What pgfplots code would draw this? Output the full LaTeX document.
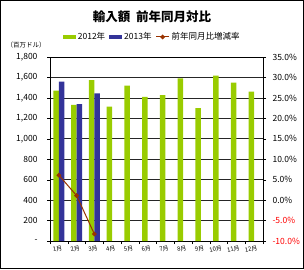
\documentclass[border=0pt]{standalone}
\usepackage{fontspec}
\setmainfont{Noto Sans CJK JP}
\usepackage{pgfplots}
\pgfplotsset{compat=1.18}
\definecolor{c12}{HTML}{99CC00}
\definecolor{c13}{HTML}{333399}
\definecolor{cl}{HTML}{993300}
\begin{document}
\begin{tikzpicture}
\useasboundingbox (0pt,0pt) rectangle (304pt,269pt);
\draw[line width=0.8pt] (0.4pt,0.4pt) rectangle (303.6pt,268.6pt);
\node[font=\bfseries\fontsize{12.5}{14}\selectfont] at (152pt,252pt) {輸入額\ \ 前年同月対比};
\node[font=\fontsize{6.5}{8}\selectfont] at (26pt,224pt) {（百万ドル）};
\begin{axis}[at={(50pt,28pt)}, anchor=south west, scale only axis, width=213pt, height=184pt,
  xmin=0.5, xmax=12.5, ymin=0, ymax=1800,
  ytick={0,200,...,1800},
  yticklabels={-,200,400,600,800,{1,000},{1,200},{1,400},{1,600},{1,800}},
  xtick={1,...,12},
  xticklabels={1月,2月,3月,4月,5月,6月,7月,8月,9月,10月,11月,12月},
  minor xtick={0.5,1.5,...,12.5},
  major x tick style={draw=none},
  minor tick length=3pt, major tick length=3pt,
  tick align=outside, ytick pos=left,
  xtick pos=bottom,
  ymajorgrids, major grid style={black!85, line width=0.6pt},
  axis line style={black, line width=0.8pt},
  tick style={black},
  /pgf/number format/assume math mode=true,
  yticklabel style={font=\fontsize{8.5}{10}\selectfont, xshift=-6pt},
  xticklabel style={font=\fontsize{6}{7}\selectfont, rotate=12, anchor=north east, xshift=3pt, yshift=-1pt, inner sep=0.5pt},
  legend style={draw=none, fill=none, at={(0.48,1.109)}, anchor=center, legend columns=3,
    font=\fontsize{8.5}{10}\selectfont, /tikz/every even column/.append style={column sep=2pt},
    inner sep=0pt},
  legend cell align=left,
]
\addplot[ybar, bar width=0.31, bar shift=-0.155, fill=c12, draw=none,
  legend image code/.code={\fill[c12] (0pt,-1.8pt) rectangle (13pt,1.8pt);}]
  coordinates {(1,1470) (2,1331) (3,1575) (4,1314) (5,1520) (6,1409) (7,1428) (8,1592) (9,1301) (10,1618) (11,1549) (12,1461)};
\addlegendentry{2012年}
\addplot[ybar, bar width=0.31, bar shift=0.155, fill=c13, draw=none,
  legend image code/.code={\fill[c13] (0pt,-1.8pt) rectangle (13pt,1.8pt);}]
  coordinates {(1,1559) (2,1340) (3,1445)};
\addlegendentry{2013年}
\addlegendimage{cl, line width=1pt, mark=*, mark size=1.8pt,
  legend image code/.code={\draw[cl, line width=1pt] (0pt,0pt) -- (13pt,0pt); \fill[cl] (6.5pt,0pt) circle (1.8pt);}}
\addlegendentry{前年同月比増減率}
\end{axis}
\begin{axis}[at={(50pt,28pt)}, anchor=south west, scale only axis, width=213pt, height=184pt,
  xmin=0.5, xmax=12.5, ymin=-10, ymax=35,
  axis y line*=right, axis x line=none,
  ytick={-10,-5,0,5,10,15,20,25,30,35},
  yticklabels={\textcolor{red}{-10.0\%},\textcolor{red}{-5.0\%},0.0\%,5.0\%,10.0\%,15.0\%,20.0\%,25.0\%,30.0\%,35.0\%},
  tick align=outside, major tick length=3pt, tick style={black},
  axis line style={black, line width=0.8pt},
  yticklabel style={font=\fontsize{8.5}{10}\selectfont, xshift=3pt},
]
\addplot[cl, line width=1pt, mark=*, mark size=1.8pt] coordinates {(1,6.1) (2,1.1) (3,-8.3)};
\end{axis}
\end{tikzpicture}
\end{document}
